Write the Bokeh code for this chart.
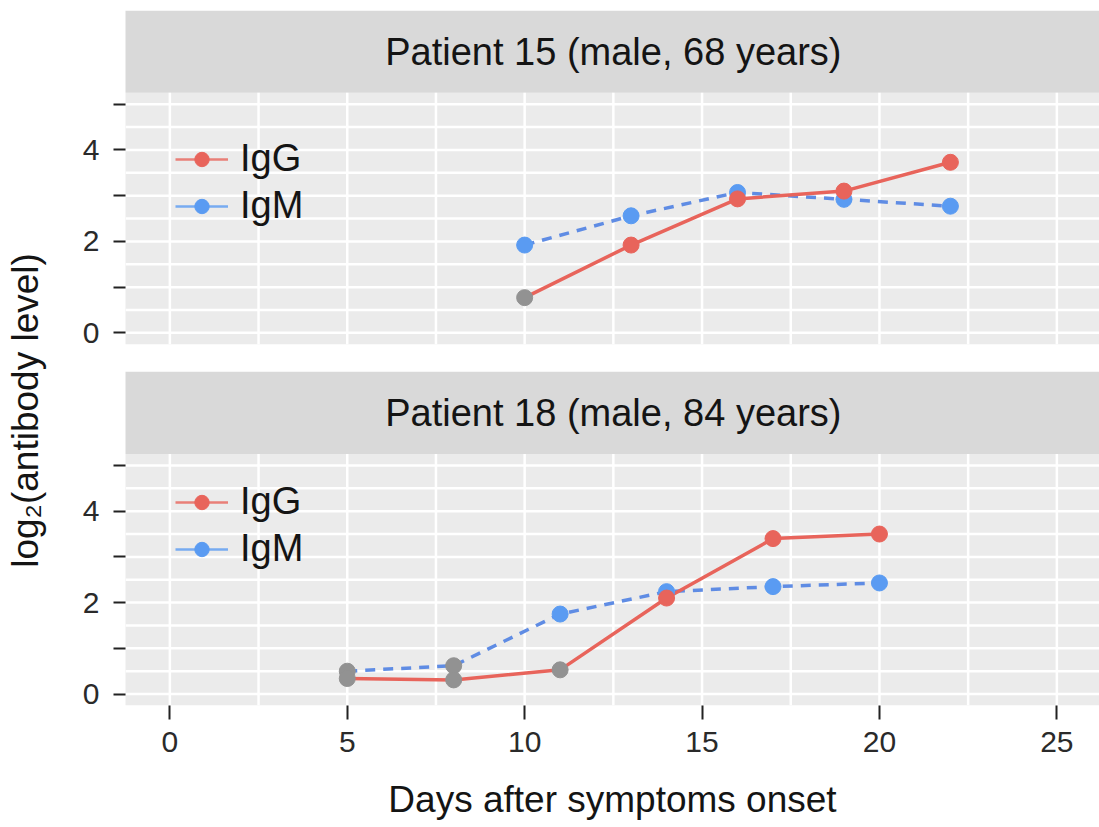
import math
from bokeh.plotting import figure
from bokeh.layouts import row
from bokeh.models import Range1d, FixedTicker, Legend, LegendItem, Label, ColumnDataSource
from bokeh.embed import file_html
from bokeh.resources import INLINE

# ---------------- data ----------------
strip_labels = ["Patient 15 (male, 68 years)", "Patient 18 (male, 84 years)"]

p15_days = [10, 13, 16, 19, 22]
p15_igg = [0.77, 1.92, 2.93, 3.10, 3.73]
p15_igm = [1.92, 2.56, 3.07, 2.92, 2.77]
p15_igg_below = [True, False, False, False, False]
p15_igm_below = [False, False, False, False, False]

p18_days = [5, 8, 11, 14, 17, 20]
p18_igg = [0.34, 0.31, 0.53, 2.10, 3.40, 3.50]
p18_igm = [0.50, 0.62, 1.75, 2.24, 2.35, 2.43]
p18_igg_below = [True, True, True, False, False, False]
p18_igm_below = [True, True, False, False, False, False]

x_ticks = [0, 5, 10, 15, 20, 25]
y_ticks = [0, 1, 2, 3, 4, 5]
y_tick_labels = ["0", "", "2", "", "4", ""]
series_names = ["IgG", "IgM"]
x_title = "Days after symptoms onset"
y_title = "log\u2082(antibody level)"

# ---------------- styling / layout ----------------
FONT = "Liberation Sans"
RED = "#E8645B"
BLUE = "#5A9BF2"
BLUE_LINE = "#5F8CE4"
GREY = "#929292"
PANEL_BG = "#EBEBEB"
STRIP_BG = "#D9D9D9"
TXT = "#141414"

UNIT = 45.7           # px per y unit
XUNIT = 35.48         # px per day
PANEL_LO, PANEL_HI = -0.25, 5.25
STRIP_H = 1.8
GAP = 0.6
BLOCK = PANEL_HI + STRIP_H - PANEL_LO
OFFSET = round(BLOCK + GAP, 6)        # panel1 offset within main range
X_LO = -1.25
X_PANEL_HI = 26.25

LEFT = 125
TOP = 10
TITLE_W = 50
frame_w = 1099 - LEFT
X_HI = X_LO + frame_w / XUNIT
frame_h = int(round((2 * BLOCK + GAP) * UNIT))
BOTTOM = 114
total_h = TOP + frame_h + BOTTOM

y_main = Range1d(PANEL_LO, PANEL_LO + 2 * BLOCK + GAP)   # panel 2 coordinates
y_p1 = Range1d(PANEL_LO - BLOCK - GAP, PANEL_HI + STRIP_H)  # panel 1 coordinates

p = figure(frame_width=frame_w, frame_height=frame_h,
           x_range=Range1d(X_LO, X_HI), y_range=y_main,
           output_backend="svg", toolbar_location=None,
           min_border_left=LEFT - TITLE_W, min_border_right=0,
           min_border_top=TOP, min_border_bottom=BOTTOM)
p.extra_y_ranges = {"p1": y_p1}
p.background_fill_color = "white"
p.border_fill_color = "white"
p.outline_line_color = None
p.grid.visible = False

# panels + strips
for rng in ["default", "p1"]:
    p.quad(left=[X_LO - 1], right=[X_PANEL_HI], bottom=[PANEL_LO], top=[PANEL_HI],
           fill_color=PANEL_BG, line_color=None, y_range_name=rng)
    p.quad(left=[X_LO - 1], right=[X_PANEL_HI], bottom=[PANEL_HI], top=[PANEL_HI + STRIP_H],
           fill_color=STRIP_BG, line_color=None, y_range_name=rng)
    hy = [PANEL_LO + 0.25 + 0.5 * i for i in range(11)]
    p.segment(x0=[X_LO] * len(hy), x1=[X_PANEL_HI] * len(hy), y0=hy, y1=hy,
              line_color="white", line_width=2.5, y_range_name=rng)
    vx = [2.5 * i for i in range(11)]
    p.segment(x0=vx, x1=vx, y0=[PANEL_LO] * len(vx), y1=[PANEL_HI] * len(vx),
              line_color="white", line_width=2.5, y_range_name=rng)


def draw_line(days, vals, line_color, dash, rng):
    p.line(days, vals, line_color=line_color, line_width=3.5, line_dash=dash, y_range_name=rng)


def draw_points(days, vals, below, color, rng):
    cols = [GREY if b else color for b in below]
    src = ColumnDataSource(dict(x=days, y=vals, c=cols))
    p.scatter("x", "y", source=src, size=16, fill_color="c", line_color="c", y_range_name=rng)


panels = [
    ("p1", p15_days, p15_igg, p15_igg_below, p15_igm, p15_igm_below),
    ("default", p18_days, p18_igg, p18_igg_below, p18_igm, p18_igm_below),
]
for rng, d, g, gb, m, mb in panels:
    draw_line(d, m, BLUE_LINE, "10 8", rng)
    draw_line(d, g, RED, "solid", rng)
    draw_points(d, m, mb, BLUE, rng)
    draw_points(d, g, gb, RED, rng)

# legends (solid-line keys, as in reference)
legend_pos = [(50, 476), (50, 133)]
for (lx, ly) in legend_pos:
    items = []
    for name, col in zip(series_names, [RED, BLUE]):
        r1 = p.line([math.nan], [math.nan], line_color=col, line_width=2.5, line_alpha=0.8)
        r2 = p.scatter([math.nan], [math.nan], size=15, fill_color=col, line_color=col)
        items.append(LegendItem(label=name, renderers=[r1, r2]))
    lg = Legend(items=items, location=(lx, ly), padding=0, margin=0, spacing=0,
                glyph_width=53, glyph_height=36, label_height=47, label_standoff=12,
                label_text_font_size="38px", label_text_font=FONT, label_text_color=TXT,
                background_fill_alpha=0, border_line_alpha=0)
    p.add_layout(lg)

# strip texts
for rng, txt in zip(["p1", "default"], strip_labels):
    p.add_layout(Label(x=(X_LO + X_PANEL_HI) / 2, y=PANEL_HI + STRIP_H / 2, text=txt,
                       y_range_name=rng, text_align="center", text_baseline="middle",
                       text_font=FONT, text_font_size="38px", text_color=TXT))

# axes
xa = p.xaxis[0]
xa.ticker = FixedTicker(ticks=x_ticks)
xa.axis_line_color = None
xa.major_tick_in = 0
xa.major_tick_out = 14
xa.minor_tick_out = 0
xa.minor_tick_in = 0
xa.major_tick_line_color = "#222222"
xa.major_tick_line_width = 2
xa.major_label_standoff = 12
xa.major_label_text_font = FONT
xa.major_label_text_font_size = "30px"
xa.major_label_text_color = "#2a2a2a"
xa.axis_label = x_title
xa.axis_label_text_font = FONT
xa.axis_label_text_font_size = "37px"
xa.axis_label_text_font_style = "normal"
xa.axis_label_text_color = TXT
xa.axis_label_standoff = 24

ytk = []
overrides = {}
for off in [0.0, OFFSET]:
    for t, lab in zip(y_ticks, y_tick_labels):
        v = round(t + off, 6)
        ytk.append(v)
        overrides[v] = lab
ya = p.yaxis[0]
ya.ticker = FixedTicker(ticks=ytk)
ya.major_label_overrides = overrides
ya.axis_line_color = None
ya.major_tick_in = 0
ya.major_tick_out = 12
ya.minor_tick_out = 0
ya.minor_tick_in = 0
ya.major_tick_line_color = "#222222"
ya.major_tick_line_width = 2
ya.major_label_standoff = 14
ya.major_label_text_font = FONT
ya.major_label_text_font_size = "30px"
ya.major_label_text_color = "#2a2a2a"

# y title strip (separate narrow figure so the rotated title spans both panels)
t = figure(frame_width=TITLE_W, frame_height=total_h,
           x_range=Range1d(0, TITLE_W), y_range=Range1d(total_h, 0),
           output_backend="svg", toolbar_location=None,
           x_axis_type=None, y_axis_type=None,
           min_border_left=0, min_border_right=0, min_border_top=0, min_border_bottom=0)
t.outline_line_color = None
t.grid.visible = False
t.background_fill_color = "white"
t.border_fill_color = "white"
t.add_layout(Label(x=25, y=400, text=y_title, angle=math.pi / 2,
                   text_align="center", text_baseline="middle",
                   text_font=FONT, text_font_size="37px", text_color=TXT))

layout = row(t, p, spacing=0)
open("out.html", "w").write(file_html(layout, INLINE))
